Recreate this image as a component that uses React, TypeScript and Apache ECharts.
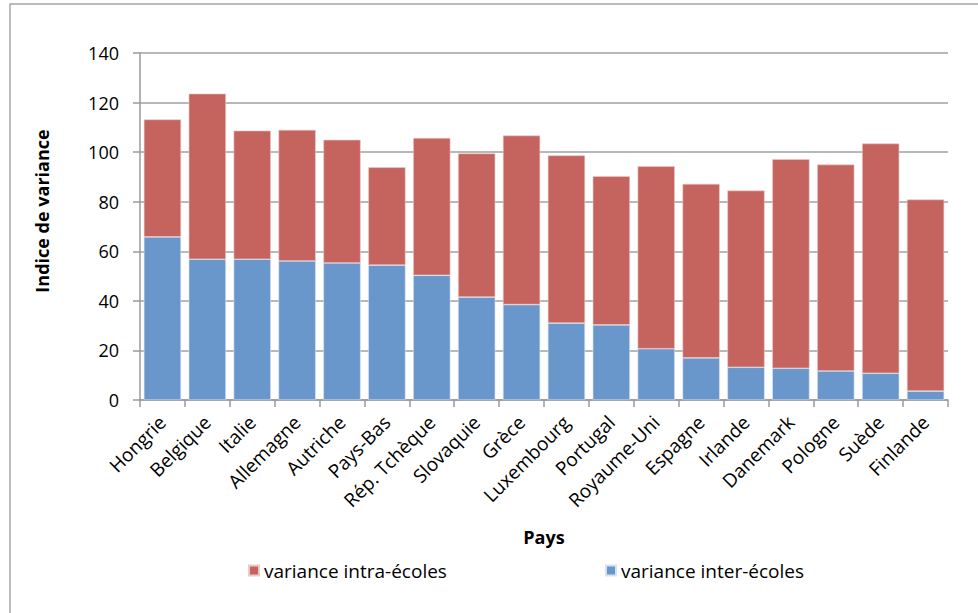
import React, { useEffect, useRef } from "react";
import * as echarts from "echarts";

const countries = [
  "Hongrie", "Belgique", "Italie", "Allemagne", "Autriche", "Pays-Bas",
  "Rép. Tchèque", "Slovaquie", "Grèce", "Luxembourg", "Portugal",
  "Royaume-Uni", "Espagne", "Irlande", "Danemark", "Pologne", "Suède", "Finlande",
];
const interEcoles = [65.8, 56.8, 56.8, 56.1, 55.3, 54.4, 50.3, 41.5, 38.5, 31.0, 30.3, 20.7, 17.0, 13.2, 12.8, 11.7, 10.8, 3.6];
const intraEcoles = [47.4, 66.8, 51.9, 52.9, 49.7, 39.5, 55.4, 58.0, 68.2, 67.7, 60.0, 73.6, 70.2, 71.3, 84.4, 83.3, 92.7, 77.3];
const yTicks = { min: 0, max: 140, interval: 20 };

const FONT = "'Open Sans', 'Noto Sans', sans-serif";

export default function App() {
  const ref = useRef<HTMLDivElement>(null);
  useEffect(() => {
    if (!ref.current) return;
    const chart = echarts.init(ref.current, null, { renderer: "svg" });
    chart.setOption({
      animation: false,
      backgroundColor: "#ffffff",
      textStyle: { fontFamily: FONT },
      graphic: [
        {
          type: "rect",
          shape: { x: 10, y: 4, width: 1000, height: 700 },
          style: { fill: "none", stroke: "#a6a6a6", lineWidth: 1.5 },
          silent: true,
        },
        {
          type: "text",
          x: 42,
          y: 211,
          rotation: Math.PI / 2,
          style: {
            text: "Indice de variance",
            fontSize: 18,
            fontWeight: "bold",
            fill: "#000",
            fontFamily: FONT,
            align: "center",
            verticalAlign: "middle",
          },
          silent: true,
        },
      ],
      grid: { left: 140, right: 30, top: 53, bottom: 213, containLabel: false },
      legend: [
        {
          data: ["variance intra-écoles"],
          left: 243,
          top: 556,
          itemWidth: 10,
          itemHeight: 10,
          itemGap: 6,
          icon: "rect",
          textStyle: { fontSize: 19, color: "#000", fontFamily: FONT },
        },
        {
          data: ["variance inter-écoles"],
          left: 600,
          top: 556,
          itemWidth: 10,
          itemHeight: 10,
          icon: "rect",
          textStyle: { fontSize: 19, color: "#000", fontFamily: FONT },
        },
      ],
      xAxis: {
        type: "category",
        data: countries,
        name: "Pays",
        nameLocation: "middle",
        nameGap: 128,
        nameTextStyle: { fontSize: 18, fontWeight: "bold", color: "#000", fontFamily: FONT },
        axisLine: { lineStyle: { color: "#9a9a9a", width: 1.5 } },
        axisTick: { show: true, alignWithLabel: false, length: 7, lineStyle: { color: "#9a9a9a", width: 1.5 } },
        axisLabel: { rotate: 45, fontSize: 19, color: "#000", margin: 19, interval: 0, fontFamily: FONT },
      },
      yAxis: {
        type: "value",
        min: yTicks.min,
        max: yTicks.max,
        interval: yTicks.interval,
        axisLine: { show: true, lineStyle: { color: "#9a9a9a", width: 1.5 } },
        axisTick: { show: true, length: 7, lineStyle: { color: "#9a9a9a", width: 1.5 } },
        axisLabel: { fontSize: 18, color: "#000", margin: 21, fontFamily: FONT },
        splitLine: { lineStyle: { color: "#a0a0a0", width: 1.5 } },
      },
      series: [
        {
          name: "variance inter-écoles",
          type: "bar",
          stack: "total",
          data: interEcoles,
          barCategoryGap: "17%",
          itemStyle: { color: "#6996CB", borderColor: "#d6e2f2", borderWidth: 0.6 },
        },
        {
          name: "variance intra-écoles",
          type: "bar",
          stack: "total",
          data: intraEcoles,
          barCategoryGap: "17%",
          itemStyle: { color: "#C5645F", borderColor: "#ecc9c7", borderWidth: 0.6 },
        },
      ],
    });
    return () => chart.dispose();
  }, []);
  return (
    <div
      ref={ref}
      style={{ position: "absolute", left: 0, top: 0, width: 978, height: 613 }}
    />
  );
}
